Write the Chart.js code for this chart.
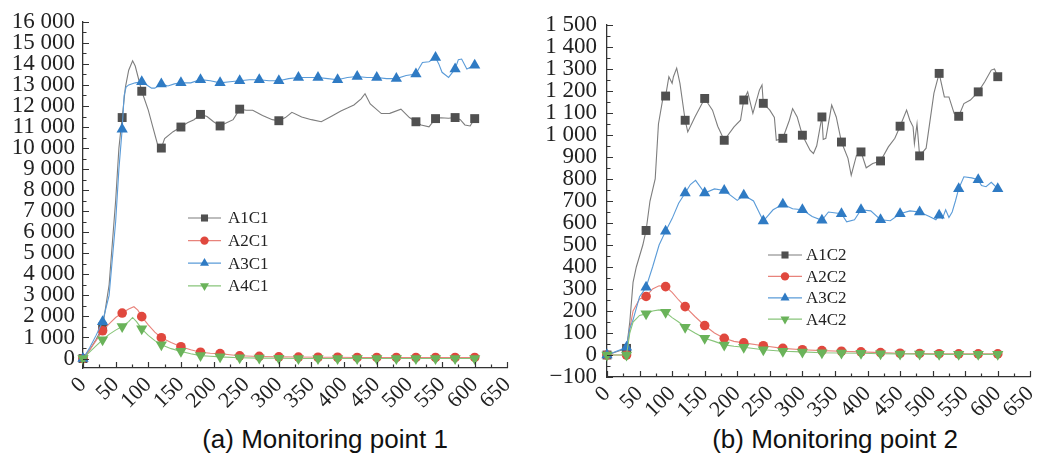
<!DOCTYPE html>
<html><head><meta charset="utf-8">
<script src="https://cdn.jsdelivr.net/npm/chart.js@4/dist/chart.umd.min.js"></script>
<style>
html,body{margin:0;padding:0;background:#fff;width:1053px;height:457px;overflow:hidden;}
.wrap{position:absolute;top:0;height:420px;}
#w1{left:0;width:518px;overflow:hidden;}
#w2{left:530px;width:523px;}
.cap{position:absolute;top:424px;line-height:30px;font-family:"Liberation Sans",Arial,sans-serif;font-size:26px;color:#111;white-space:nowrap;transform:translateX(-50%);}
</style></head>
<body>
<div class="wrap" id="w1"><canvas id="c1" width="530" height="420" style="width:530px;height:420px"></canvas></div>
<div class="wrap" id="w2"><canvas id="c2" width="523" height="420" style="width:523px;height:420px"></canvas></div>
<div class="cap" style="left:325px">(a) Monitoring point 1</div>
<div class="cap" style="left:835px">(b) Monitoring point 2</div>
<script>
// ---------- Monitoring point 1 ----------
const a1c1X = [0,10,20,30,40,50,55,60,65,70,76,80,90,100,107,114,120,125,138,150,160,170,180,190,200,210,220,230,240,250,260,275,290,300,310,320,335,350,365,380,395,405,415,426,432,440,457,470,487,500,510,518,530,540,548,560,570,578,585,593,600];
const a1c1Y = [0,400,900,1500,3500,7500,10000,11450,12900,13700,14150,13900,12700,11800,11000,10200,10000,10450,10780,11000,11200,11350,11600,11500,11250,11050,11200,11350,11850,11800,11800,11550,11350,11300,11450,11700,11480,11350,11250,11500,11760,11900,12050,12340,12580,12100,11640,11650,11850,11450,11250,11100,11010,11400,11440,11420,11450,11350,11100,11050,11400];

const a2c1X = [0,10,20,30,40,50,60,70,78,84,90,100,110,120,135,150,165,180,195,210,225,240,270,300,330,360,390,420,450,480,510,540,570,600];
const a2c1Y = [0,400,850,1320,1650,1950,2160,2350,2460,2300,1990,1600,1250,990,760,560,420,300,250,235,180,130,100,80,70,60,60,50,50,50,50,50,50,50];

const a3c1X = [0,10,20,30,40,50,55,60,63,66,70,80,90,100,105,110,120,130,140,150,165,180,195,210,225,240,255,270,285,300,315,330,345,360,375,390,405,420,435,450,465,480,495,510,515,520,530,540,545,550,560,570,575,580,588,600];
const a3c1Y = [0,500,1100,1750,3000,6500,9000,10900,12500,12900,13000,13100,13150,12950,12850,12850,13050,12950,13050,13100,13100,13250,13200,13100,13150,13200,13250,13250,13200,13200,13300,13350,13350,13350,13300,13250,13350,13400,13350,13350,13300,13300,13450,13520,13800,14070,14100,14300,14000,13600,13360,13760,14200,14230,13760,13930];

const a4c1X = [0,10,20,30,40,50,60,70,76,82,90,100,110,120,135,150,165,180,195,210,240,270,300,330,360,390,420,450,480,510,540,570,600];
const a4c1Y = [0,300,600,890,1150,1350,1520,1750,1950,1750,1410,1100,850,660,470,340,230,140,110,80,40,20,10,0,0,0,0,0,0,0,0,0,0];

const yTickValues1 = [0,1000,2000,3000,4000,5000,6000,7000,8000,9000,10000,11000,12000,13000,14000,15000,16000];
const yRange1 = {min:-450, max:16000, step:1000, minor:500};

// ---------- Monitoring point 2 ----------
const a1c2X = [0,30,35,40,45,50,55,60,66,74,79,86,90,95,100,102,107,112,120,124,135,150,162,170,180,195,205,210,216,224,234,238,240,250,257,260,270,280,285,292,300,312,317,322,330,332,336,345,352,360,370,375,383,390,398,408,420,432,442,450,460,465,470,472,476,480,490,502,510,518,525,533,540,548,558,570,580,590,595,600];
const a1c2Y = [0,30,150,330,400,450,500,566,700,800,1050,1170,1177,1265,1235,1265,1304,1235,1067,1014,1082,1166,1113,1040,976,1037,1067,1159,1196,1098,1204,1227,1144,1113,1080,976,985,1067,1120,1082,999,930,916,951,1082,980,985,1136,1082,968,894,817,907,923,851,870,882,946,985,1040,1113,1067,1037,960,1050,905,940,1190,1280,1173,1173,1098,1085,1143,1159,1196,1242,1295,1300,1265];

const a2c2X = [0,30,35,40,50,60,70,80,90,100,110,120,135,150,165,180,195,210,240,270,300,330,360,390,420,450,480,510,540,570,600];
const a2c2Y = [0,0,120,200,255,266,300,315,311,285,250,220,175,134,100,76,62,55,42,30,24,20,17,14,11,8,7,6,5,5,5];

const a3c2X = [0,30,35,40,50,60,70,80,90,100,110,120,128,136,150,165,180,200,210,225,235,240,255,270,285,300,315,330,340,360,368,380,390,405,420,435,450,465,480,495,505,510,515,520,525,530,535,540,548,560,570,575,582,590,600];
const a3c2Y = [0,35,120,160,265,308,400,500,563,620,690,736,775,794,736,755,748,703,726,700,640,609,660,685,665,660,630,612,650,642,605,615,660,655,615,610,642,655,650,630,615,635,620,660,625,650,700,756,810,805,797,770,765,785,756];

const a4c2X = [0,30,35,40,50,60,70,80,90,100,110,120,135,150,165,180,195,210,240,270,300,330,360,390,420,450,480,510,540,570,600];
const a4c2Y = [0,0,100,150,180,187,200,205,194,170,150,126,100,76,62,46,40,35,24,17,14,10,9,8,6,5,4,3,3,3,3];

const yTickValues2 = [-100,0,100,200,300,400,500,600,700,800,900,1000,1100,1200,1300,1400,1500];
const yRange2 = {min:-100, max:1500, step:100, minor:50};

const xTickValues = [0,50,100,150,200,250,300,350,400,450,500,550,600,650];
const xRange = {min:0, max:650, step:50, minor:25};

const names1 = ['A1C1','A2C1','A3C1','A4C1'];
const names2 = ['A1C2','A2C2','A3C2','A4C2'];

// ---------- styles ----------
const SERIF = '"Liberation Serif", "DejaVu Serif", serif';
const styles = [
  {line:'#7d7d7d', mark:'#505050', ps:'rect', r:6.3, rot:0, lr:5},
  {line:'#e8837b', mark:'#e0483e', ps:'circle', r:4.8, rot:0, lr:4.2},
  {line:'#5a9bd8', mark:'#2f7bc4', ps:'triangle', r:6.5, rot:0, lr:5.2},
  {line:'#88c57a', mark:'#6ab35a', ps:'triangle', r:6.5, rot:180, lr:5.2}
];

function pts(xs, ys){ return xs.map((x,i)=>({x:x, y:ys[i]})); }
function fmt(v){
  const s = Math.abs(v).toString().replace(/\B(?=(\d{3})+(?!\d))/g,' ');
  return (v<0?'\u2212':'')+s;
}

function makeDatasets(names, series){
  return names.map((n,i)=>{
    const st = styles[i];
    return {
      label:n, data:pts(series[i][0], series[i][1]),
      borderColor:st.line, borderWidth:1.1, backgroundColor:st.mark,
      pointBackgroundColor:st.mark, pointBorderColor:st.mark, pointBorderWidth:0,
      pointStyle:st.ps, pointRotation:st.rot,
      pointRadius:(c)=> (c.raw && c.raw.x % 30 === 0) ? st.r : 0,
      pointHoverRadius:0, tension:0, clip:false, order:4-i,
      legendR: st.lr
    };
  });
}

const tickPlugin = {
  id:'inTicks',
  afterDraw(chart, args, o){
    const ctx = chart.ctx, xs = chart.scales.x, ys = chart.scales.y;
    ctx.save();
    ctx.strokeStyle = '#333'; ctx.lineWidth = 1.2;
    ctx.beginPath();
    for (let v = o.x.min; v <= o.x.max + 1e-6; v += o.x.minor){
      const px = Math.round(xs.getPixelForValue(v)) + 0.5;
      const len = (v % o.x.step === 0) ? 6 : 3.5;
      ctx.moveTo(px, xs.top); ctx.lineTo(px, xs.top - len);
    }
    const start = Math.ceil(o.y.min / o.y.minor) * o.y.minor;
    for (let v = start; v <= o.y.max + 1e-6; v += o.y.minor){
      const py = Math.round(ys.getPixelForValue(v)) + 0.5;
      const len = (v % o.y.step === 0) ? 6 : 3.5;
      ctx.moveTo(ys.right, py); ctx.lineTo(ys.right + len, py);
    }
    ctx.stroke();
    ctx.restore();
  }
};

const legendPlugin = {
  id:'inLegend',
  afterDraw(chart, args, o){
    const ctx = chart.ctx;
    ctx.save();
    chart.data.datasets.forEach((ds,i)=>{
      const y = o.y + i*o.dy;
      ctx.strokeStyle = ds.borderColor; ctx.lineWidth = 1.2;
      ctx.beginPath(); ctx.moveTo(o.x1, y); ctx.lineTo(o.x2, y); ctx.stroke();
      ctx.fillStyle = ds.pointBackgroundColor; ctx.strokeStyle = ds.pointBorderColor;
      Chart.helpers.drawPoint(ctx, {pointStyle:ds.pointStyle, rotation:ds.pointRotation, radius:ds.legendR, borderWidth:0}, (o.x1+o.x2)/2, y);
      ctx.fillStyle = '#222';
      ctx.font = o.font;
      ctx.textBaseline = 'middle'; ctx.textAlign = 'left';
      ctx.fillText(ds.label, o.tx, y+1);
    });
    ctx.restore();
  }
};

function makeChart(id, names, series, yr, yVals, geo, leg){
  return new Chart(document.getElementById(id), {
    type:'line',
    data:{ datasets: makeDatasets(names, series) },
    plugins:[tickPlugin, legendPlugin],
    options:{
      responsive:false, animation:false, events:[],
      layout:{ padding:{ top:geo.top, right:geo.right, left:0, bottom:0 } },
      scales:{
        x:{
          type:'linear', min:xRange.min, max:xRange.max,
          grid:{display:false, drawTicks:false},
          border:{display:true, color:'#333', width:1.3},
          afterBuildTicks:(s)=>{ s.ticks = xTickValues.map(v=>({value:v})); },
          ticks:{ autoSkip:false, minRotation:45, maxRotation:45,
                  padding:geo.xpad, color:'#222',
                  font:{family:SERIF, size:22},
                  callback:(v)=> String(v) },
          afterFit:(s)=>{ s.height = geo.xh; }
        },
        y:{
          type:'linear', min:yr.min, max:yr.max,
          grid:{display:false, drawTicks:false},
          border:{display:true, color:'#333', width:1.3},
          afterBuildTicks:(s)=>{ s.ticks = yVals.map(v=>({value:v})); },
          ticks:{ autoSkip:false, padding:geo.ypad, color:'#222',
                  font:{family:SERIF, size:23},
                  callback:(v)=> fmt(v) },
          afterFit:(s)=>{ s.width = geo.yw; }
        }
      },
      plugins:{
        legend:{display:false}, tooltip:{enabled:false},
        inTicks:{ x:xRange, y:yr },
        inLegend: leg
      }
    }
  });
}

makeChart('c1', names1,
  [[a1c1X,a1c1Y],[a2c1X,a2c1Y],[a3c1X,a3c1Y],[a4c1X,a4c1Y]],
  yRange1, yTickValues1,
  {top:20, right:14, xh:52, yw:83, xpad:4, ypad:8},
  {x1:188, x2:221, tx:228, y:218, dy:22.6, font:'17px ' + SERIF});

makeChart('c2', names2,
  [[a1c2X,a1c2Y],[a2c2X,a2c2Y],[a3c2X,a3c2Y],[a4c2X,a4c2Y]],
  yRange2, yTickValues2,
  {top:25, right:15, xh:43, yw:77, xpad:4, ypad:10},
  {x1:238, x2:272, tx:276, y:255, dy:21.4, font:'17px ' + SERIF});
</script>
</body></html>
